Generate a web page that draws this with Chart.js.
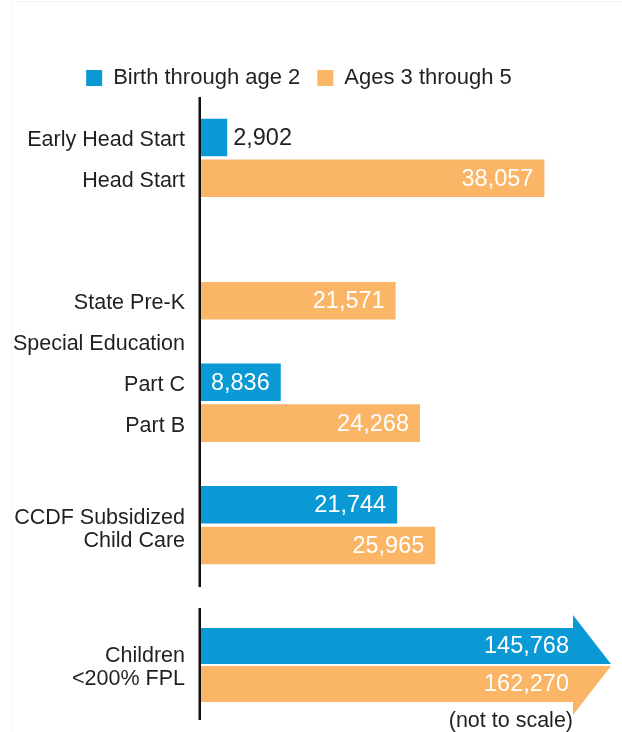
<!DOCTYPE html>
<html>
<head>
<meta charset="utf-8">
<title>Enrollment by program</title>
<script src="https://cdn.jsdelivr.net/npm/chart.js@4.4.0/dist/chart.umd.min.js"></script>
<style>
  html, body { margin: 0; padding: 0; background: #fff; }
  #wrap { position: relative; width: 622px; height: 732px; overflow: hidden; }
  #frame { position: absolute; left: 11px; top: 1px; right: -2px; bottom: -2px; border-left: 1px solid #f5f5f5; border-top: 1px solid #f5f5f5; }
  .box { position: absolute; left: 0; width: 622px; }
  #topBox { top: 0; height: 600px; }
  #bottomBox { top: 600px; height: 132px; }
</style>
</head>
<body>
<div id="wrap">
  <div id="frame"></div>
  <div class="box" id="topBox"><canvas id="programChart"></canvas></div>
  <div class="box" id="bottomBox"><canvas id="povertyChart"></canvas></div>
</div>
<script>
const seriesNames = ['Birth through age 2', 'Ages 3 through 5']

// one row per bar, blank rows are the gaps between groups
const programLabels = [
  'Early Head Start', 'Head Start', '', '', 'State Pre-K', 'Special Education',
  'Part C', 'Part B', '', ['', '', 'CCDF Subsidized', 'Child Care'], ''
]
const infantValues = [2902, null, null, null, null, null, 8836, null, null, 21744, null]
const preschoolValues = [null, 38057, null, null, 21571, null, null, 24268, null, null, 25965]

const povertyLabels = [['Children', '<200% FPL']]
const povertyInfant = [145768]
const povertyPreschool = [162270]

const X_MAX = 44000

const BLUE = '#0b99d6'
const ORANGE = '#fab666'
const TEXT = '#231f20'
const FONT = '"Liberation Sans", Arial, sans-serif'

const axisLine = {
  id: 'axisLine',
  beforeDatasetsDraw(chart, args, opts) {
    const { ctx, chartArea } = chart
    const x = chartArea.left - 1.25
    ctx.save()
    ctx.strokeStyle = '#111'
    ctx.lineWidth = 2.5
    ctx.beginPath()
    ctx.moveTo(x, chartArea.top - opts.above)
    ctx.lineTo(x, chartArea.bottom + opts.below)
    ctx.stroke()
    ctx.restore()
  }
}

const valueLabels = {
  id: 'valueLabels',
  afterDatasetsDraw(chart, args, opts) {
    const { ctx, chartArea } = chart
    ctx.save()
    ctx.font = `${opts.size}px ${FONT}`
    ctx.textBaseline = 'middle'
    chart.data.datasets.forEach((ds, di) => {
      chart.getDatasetMeta(di).data.forEach((bar, i) => {
        const v = ds.data[i]
        if (v == null) return
        const end = Math.min(bar.x, chartArea.right)
        const text = v.toLocaleString('en-US')
        const w = ctx.measureText(text).width
        if (end - bar.base > w + opts.inset + 4) {
          ctx.fillStyle = '#fff'
          ctx.textAlign = 'right'
          ctx.fillText(text, end - opts.inset, bar.y + 1)
        } else {
          ctx.fillStyle = TEXT
          ctx.textAlign = 'left'
          ctx.fillText(text, end + 6, bar.y + 1)
        }
      })
    })
    ctx.restore()
  }
}

// the two clipped bars together form one split arrow
const arrowHeads = {
  id: 'arrowHeads',
  afterDatasetsDraw(chart, args, opts) {
    const { ctx, chartArea } = chart
    const x0 = chartArea.right
    const x1 = x0 + opts.length
    ctx.save()
    chart.data.datasets.forEach((ds, di) => {
      const bar = chart.getDatasetMeta(di).data[0]
      const top = bar.y - bar.height / 2
      const bottom = bar.y + bar.height / 2
      ctx.fillStyle = ds.backgroundColor
      ctx.beginPath()
      if (di === 0) {
        ctx.moveTo(x0, bottom)
        ctx.lineTo(x0, top - opts.flare)
        ctx.lineTo(x1, bottom)
      } else {
        ctx.moveTo(x0, top)
        ctx.lineTo(x1, top)
        ctx.lineTo(x0, bottom + opts.flare)
      }
      ctx.closePath()
      ctx.fill()
    })
    ctx.restore()
  }
}

const hiddenX = (extra) => Object.assign({
  min: 0,
  max: X_MAX,
  stacked: true,
  ticks: { display: false },
  grid: { display: false, drawTicks: false },
  border: { display: false }
}, extra)

const yAxis = (lineHeight) => ({
  stacked: true,
  afterFit(s) {
    s.width = 201
    // labels may hang over the plot edges, do not let them shrink it
    s.paddingTop = 0
    s.paddingBottom = 0
  },
  grid: { display: false, drawTicks: false },
  border: { display: false },
  ticks: {
    autoSkip: false,
    padding: 16,
    labelOffset: 2.5,
    color: TEXT,
    font: { family: FONT, size: 21.5, lineHeight }
  }
})

function init() {
  new Chart(document.getElementById('programChart'), {
    type: 'bar',
    data: {
      labels: programLabels,
      datasets: [
        { label: seriesNames[0], data: infantValues, backgroundColor: BLUE, borderWidth: 0 },
        { label: seriesNames[1], data: preschoolValues, backgroundColor: ORANGE, borderWidth: 0 }
      ]
    },
    options: {
      indexAxis: 'y',
      animation: false,
      responsive: true,
      maintainAspectRatio: false,
      categoryPercentage: 1,
      barPercentage: 0.92,
      layout: { padding: { top: 50, right: 24, bottom: 34, left: 0 } },
      plugins: {
        legend: {
          labels: {
            boxWidth: 16,
            boxHeight: 16,
            padding: 17,
            color: TEXT,
            font: { family: FONT, size: 22 }
          }
        },
        tooltip: { enabled: false },
        axisLine: { above: 20, below: 21 },
        valueLabels: { size: 23.5, inset: 11 }
      },
      scales: {
        x: hiddenX({ position: 'top', afterFit(s) { s.height = 18 } }),
        y: yAxis(1.04)
      }
    },
    plugins: [axisLine, valueLabels]
  })

  new Chart(document.getElementById('povertyChart'), {
    type: 'bar',
    data: {
      labels: povertyLabels,
      datasets: [
        { label: seriesNames[0], data: povertyInfant, backgroundColor: BLUE, borderWidth: 0, clip: 0 },
        { label: seriesNames[1], data: povertyPreschool, backgroundColor: ORANGE, borderWidth: 0, clip: 0 }
      ]
    },
    options: {
      indexAxis: 'y',
      animation: false,
      responsive: true,
      maintainAspectRatio: false,
      categoryPercentage: 1,
      barPercentage: 0.947,
      layout: { padding: { top: 27, right: 49, bottom: 0, left: 0 } },
      plugins: {
        legend: { display: false },
        tooltip: { enabled: false },
        axisLine: { above: 19, below: 17 },
        valueLabels: { size: 23.5, inset: 4 },
        arrowHeads: { length: 38, flare: 13 }
      },
      scales: {
        x: hiddenX({
          stacked: false,
          title: {
            display: true,
            text: '(not to scale)',
            align: 'end',
            color: TEXT,
            padding: { top: 7.5, bottom: 0 },
            font: { family: FONT, size: 21.5, lineHeight: 1 }
          }
        }),
        y: Object.assign(yAxis(1.07), { stacked: false })
      }
    },
    plugins: [axisLine, valueLabels, arrowHeads]
  })
}

window.addEventListener('load', init)
</script>
</body>
</html>
